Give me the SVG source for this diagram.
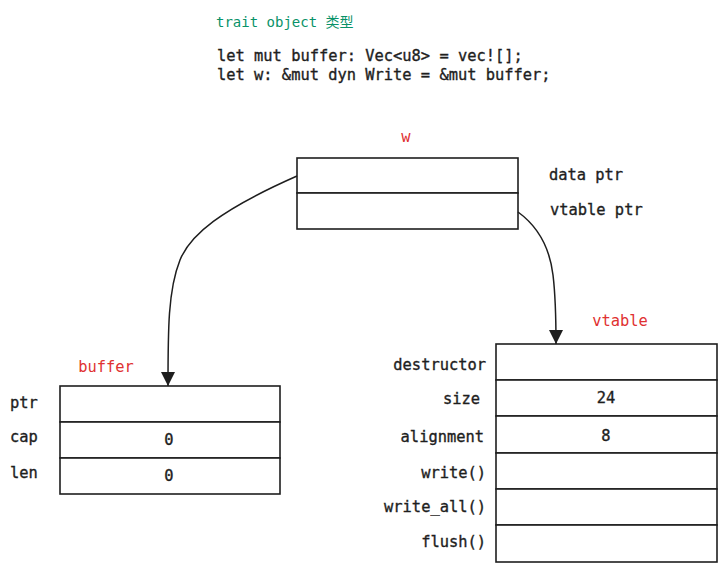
<svg xmlns="http://www.w3.org/2000/svg" width="728" height="572" viewBox="0 0 728 572">
<style>
  .mono { font-family: "DejaVu Sans Mono", "Liberation Mono", monospace; font-size: 15.4px; fill: #1e1e1e; stroke: #1e1e1e; stroke-width: 0.35; }
  .red { font-family: "DejaVu Sans Mono", "Liberation Mono", monospace; font-size: 15.4px; fill: #e03131; }
  .title { font-family: "DejaVu Sans Mono", "Noto Sans CJK SC", monospace; font-size: 14px; fill: #099268; }
  .cell { fill: #ffffff; stroke: #1e1e1e; stroke-width: 1.6; }
  .edge { fill: none; stroke: #1e1e1e; stroke-width: 1.5; }
</style>
<defs>
  <marker id="ah" viewBox="0 0 14 14" refX="14" refY="7" markerWidth="14" markerHeight="14" markerUnits="userSpaceOnUse" orient="auto">
    <path d="M0,0 L14,7 L0,14 Z" fill="#1e1e1e"/>
  </marker>
</defs>
<rect width="728" height="572" fill="#ffffff"/>

<g id="header">
  <text class="title" x="216" y="27">trait object 类型</text>
  <text class="mono" x="217" y="61">let mut buffer: Vec&lt;u8&gt; = vec![];</text>
  <text class="mono" x="217" y="80">let w: &amp;mut dyn Write = &amp;mut buffer;</text>
</g>

<g id="w">
  <text class="red" x="406" y="142" text-anchor="middle">w</text>
  <rect class="cell" x="297" y="158" width="221" height="35"/>
  <rect class="cell" x="297" y="193" width="221" height="36"/>
  <text class="mono" x="549" y="180">data ptr</text>
  <text class="mono" x="550" y="215">vtable ptr</text>
</g>

<g id="buffer">
  <text class="red" x="106" y="372" text-anchor="middle">buffer</text>
  <rect class="cell" x="60" y="386" width="220" height="36"/>
  <rect class="cell" x="60" y="422" width="220" height="36"/>
  <rect class="cell" x="60" y="458" width="220" height="36"/>
  <text class="mono" x="10" y="408">ptr</text>
  <text class="mono" x="10" y="442">cap</text>
  <text class="mono" x="10" y="478">len</text>
  <text class="mono" x="169" y="445" text-anchor="middle">0</text>
  <text class="mono" x="169" y="481" text-anchor="middle">0</text>
</g>

<g id="vtable">
  <text class="red" x="620" y="326" text-anchor="middle">vtable</text>
  <rect class="cell" x="496" y="344" width="221" height="36"/>
  <rect class="cell" x="496" y="380" width="221" height="36"/>
  <rect class="cell" x="496" y="416" width="221" height="37"/>
  <rect class="cell" x="496" y="453" width="221" height="36"/>
  <rect class="cell" x="496" y="489" width="221" height="36"/>
  <rect class="cell" x="496" y="525" width="221" height="37"/>
  <text class="mono" x="486" y="370" text-anchor="end">destructor</text>
  <text class="mono" x="480" y="404" text-anchor="end">size</text>
  <text class="mono" x="484" y="442" text-anchor="end">alignment</text>
  <text class="mono" x="486" y="478" text-anchor="end">write()</text>
  <text class="mono" x="486" y="512" text-anchor="end">write_all()</text>
  <text class="mono" x="486" y="547" text-anchor="end">flush()</text>
  <text class="mono" x="606" y="403" text-anchor="middle">24</text>
  <text class="mono" x="606" y="441" text-anchor="middle">8</text>
</g>

<g id="connectors">
  <path class="edge" d="M297,176 C220,210 190,235 180,260 C168,290 168,330 168,386" marker-end="url(#ah)"/>
  <path class="edge" d="M518,212 C540,228 550,250 553,275 C556,300 556,320 556,344" marker-end="url(#ah)"/>
</g>
</svg>
